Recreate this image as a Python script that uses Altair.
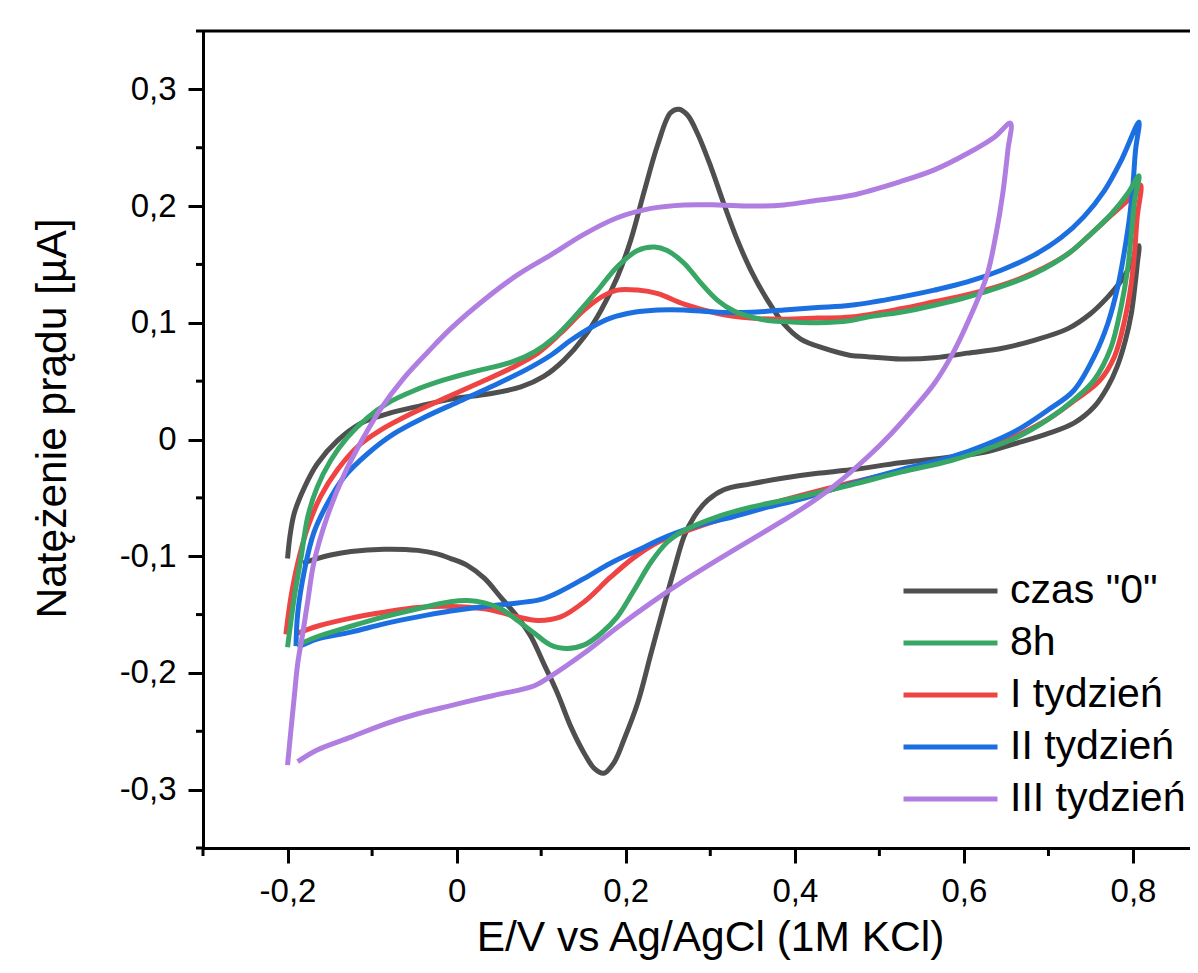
import altair as alt
import pandas as pd

SERIES = ['czas "0"', "8h", "I tydzień", "II tydzień", "III tydzień"]
COLORS = ["#4f4f4f", "#38a665", "#ef4444", "#1c6fe0", "#b07ee0"]

# (E [V], I [uA]), in scan order
czas0 = [
    (-0.200, -0.102), (-0.197, -0.082), (-0.192, -0.063), (-0.180, -0.041), (-0.165, -0.021),
    (-0.141, -0.001), (-0.113, 0.014), (-0.082, 0.022), (-0.042, 0.029), (-0.003, 0.035),
    (0.037, 0.039), (0.076, 0.045), (0.103, 0.054), (0.127, 0.068), (0.151, 0.088),
    (0.171, 0.111), (0.190, 0.139), (0.206, 0.171), (0.222, 0.213), (0.238, 0.253),
    (0.253, 0.280), (0.263, 0.283), (0.273, 0.278), (0.285, 0.262), (0.301, 0.233),
    (0.316, 0.202), (0.332, 0.171), (0.348, 0.145), (0.368, 0.119), (0.387, 0.099),
    (0.407, 0.086), (0.435, 0.078), (0.466, 0.072), (0.486, 0.071), (0.525, 0.069),
    (0.565, 0.070), (0.604, 0.074), (0.644, 0.078), (0.683, 0.085), (0.723, 0.095),
    (0.750, 0.108), (0.770, 0.122), (0.786, 0.136), (0.798, 0.151), (0.807, 0.166),
    (0.805, 0.150), (0.802, 0.130), (0.798, 0.108), (0.791, 0.085), (0.781, 0.062),
    (0.770, 0.045), (0.754, 0.028), (0.730, 0.014), (0.699, 0.005), (0.663, -0.003),
    (0.624, -0.011), (0.585, -0.015), (0.525, -0.020), (0.466, -0.026), (0.427, -0.029),
    (0.387, -0.033), (0.348, -0.038), (0.316, -0.043), (0.297, -0.052), (0.281, -0.066),
    (0.269, -0.083), (0.257, -0.112), (0.245, -0.143), (0.230, -0.183), (0.214, -0.226),
    (0.198, -0.257), (0.186, -0.277), (0.174, -0.286), (0.163, -0.282), (0.151, -0.269),
    (0.135, -0.246), (0.119, -0.217), (0.103, -0.192), (0.088, -0.169), (0.072, -0.152),
    (0.052, -0.135), (0.033, -0.119), (0.013, -0.108), (-0.007, -0.102), (-0.023, -0.098),
    (-0.046, -0.095), (-0.086, -0.094), (-0.125, -0.096), (-0.149, -0.099), (-0.165, -0.102),
    (-0.182, -0.106),
]

h8 = [
    (-0.200, -0.178), (-0.192, -0.135), (-0.184, -0.101), (-0.176, -0.066), (-0.165, -0.041),
    (-0.149, -0.018), (-0.129, 0.002), (-0.105, 0.019), (-0.082, 0.031), (-0.050, 0.042),
    (-0.015, 0.051), (0.025, 0.059), (0.064, 0.066), (0.092, 0.075), (0.115, 0.087),
    (0.143, 0.108), (0.167, 0.128), (0.190, 0.148), (0.214, 0.162), (0.234, 0.165),
    (0.249, 0.162), (0.269, 0.151), (0.289, 0.134), (0.309, 0.119), (0.328, 0.110),
    (0.348, 0.105), (0.368, 0.102), (0.387, 0.101), (0.427, 0.100), (0.466, 0.102),
    (0.486, 0.105), (0.525, 0.109), (0.565, 0.115), (0.604, 0.122), (0.644, 0.131),
    (0.683, 0.142), (0.723, 0.159), (0.750, 0.176), (0.774, 0.193), (0.794, 0.211),
    (0.807, 0.226),
    (0.802, 0.205), (0.798, 0.176), (0.794, 0.148), (0.786, 0.114), (0.774, 0.079),
    (0.754, 0.051), (0.730, 0.034), (0.699, 0.017), (0.663, 0.002), (0.624, -0.009),
    (0.585, -0.018), (0.525, -0.028), (0.466, -0.039), (0.407, -0.049), (0.348, -0.058),
    (0.309, -0.066), (0.269, -0.078), (0.249, -0.088), (0.230, -0.105), (0.210, -0.129),
    (0.190, -0.152), (0.171, -0.166), (0.151, -0.176), (0.131, -0.179), (0.111, -0.176),
    (0.092, -0.166), (0.072, -0.155), (0.052, -0.145), (0.033, -0.140), (0.013, -0.138),
    (-0.007, -0.139), (-0.046, -0.145), (-0.086, -0.152), (-0.125, -0.160), (-0.165, -0.169),
    (-0.188, -0.176),
]

tydz1 = [
    (-0.202, -0.167), (-0.196, -0.135), (-0.188, -0.106), (-0.176, -0.075), (-0.161, -0.049),
    (-0.141, -0.026), (-0.117, -0.006), (-0.090, 0.008), (-0.054, 0.022), (-0.015, 0.035),
    (0.025, 0.048), (0.064, 0.061), (0.096, 0.074), (0.123, 0.091), (0.151, 0.111),
    (0.171, 0.122), (0.190, 0.128), (0.214, 0.128), (0.238, 0.125), (0.269, 0.116),
    (0.309, 0.108), (0.348, 0.104), (0.387, 0.103), (0.427, 0.104), (0.466, 0.105),
    (0.525, 0.112), (0.565, 0.118), (0.604, 0.124), (0.644, 0.132), (0.683, 0.143),
    (0.723, 0.159), (0.750, 0.176), (0.774, 0.192), (0.798, 0.208), (0.809, 0.218),
    (0.805, 0.191), (0.802, 0.162), (0.798, 0.134), (0.790, 0.102), (0.778, 0.071),
    (0.760, 0.050), (0.732, 0.034), (0.701, 0.018), (0.665, 0.004), (0.626, -0.008),
    (0.585, -0.017), (0.525, -0.027), (0.466, -0.037), (0.407, -0.048), (0.348, -0.060),
    (0.309, -0.069), (0.269, -0.079), (0.238, -0.088), (0.210, -0.101), (0.182, -0.118),
    (0.151, -0.139), (0.123, -0.152), (0.096, -0.155), (0.072, -0.152), (0.052, -0.148),
    (0.033, -0.145), (-0.007, -0.143), (-0.046, -0.144), (-0.086, -0.148), (-0.125, -0.153),
    (-0.165, -0.160), (-0.188, -0.166),
]

tydz2 = [
    (-0.190, -0.177), (-0.188, -0.149), (-0.180, -0.112), (-0.169, -0.080), (-0.153, -0.055),
    (-0.133, -0.032), (-0.105, -0.012), (-0.074, 0.005), (-0.038, 0.019), (0.001, 0.032),
    (0.040, 0.045), (0.080, 0.059), (0.111, 0.072), (0.135, 0.085), (0.159, 0.096),
    (0.182, 0.104), (0.210, 0.109), (0.238, 0.111), (0.269, 0.111), (0.309, 0.109),
    (0.348, 0.109), (0.387, 0.111), (0.427, 0.113), (0.466, 0.115), (0.525, 0.122),
    (0.565, 0.128), (0.604, 0.135), (0.644, 0.145), (0.683, 0.158), (0.715, 0.173),
    (0.742, 0.191), (0.766, 0.213), (0.786, 0.239), (0.807, 0.272),
    (0.803, 0.248), (0.800, 0.219), (0.796, 0.191), (0.790, 0.162), (0.782, 0.131),
    (0.770, 0.099), (0.754, 0.071), (0.730, 0.042), (0.699, 0.025), (0.663, 0.008),
    (0.624, -0.005), (0.585, -0.015), (0.525, -0.026), (0.466, -0.038), (0.407, -0.051),
    (0.368, -0.058), (0.328, -0.066), (0.289, -0.073), (0.249, -0.083), (0.214, -0.095),
    (0.182, -0.106), (0.151, -0.119), (0.123, -0.130), (0.100, -0.137), (0.072, -0.140),
    (0.033, -0.143), (-0.007, -0.147), (-0.046, -0.152), (-0.086, -0.158), (-0.125, -0.165),
    (-0.165, -0.171), (-0.188, -0.178),
]

tydz3 = [
    (-0.200, -0.279), (-0.196, -0.249), (-0.192, -0.220), (-0.188, -0.192), (-0.182, -0.166),
    (-0.176, -0.138), (-0.169, -0.106), (-0.153, -0.066), (-0.133, -0.030), (-0.113, -0.002),
    (-0.090, 0.026), (-0.062, 0.053), (-0.034, 0.075), (-0.007, 0.095), (0.033, 0.120),
    (0.072, 0.141), (0.111, 0.158), (0.151, 0.176), (0.190, 0.190), (0.230, 0.198),
    (0.269, 0.201), (0.309, 0.201), (0.348, 0.200), (0.387, 0.201), (0.427, 0.205),
    (0.466, 0.209), (0.525, 0.221), (0.565, 0.231), (0.604, 0.245), (0.636, 0.259),
    (0.655, 0.271),
    (0.652, 0.248), (0.646, 0.211), (0.638, 0.176), (0.627, 0.140), (0.608, 0.106),
    (0.587, 0.074), (0.565, 0.048), (0.540, 0.026), (0.514, 0.005), (0.486, -0.015),
    (0.446, -0.040), (0.407, -0.060), (0.387, -0.069), (0.348, -0.086), (0.309, -0.103),
    (0.269, -0.121), (0.230, -0.140), (0.190, -0.161), (0.151, -0.183), (0.111, -0.203),
    (0.092, -0.211), (0.052, -0.218), (0.033, -0.221), (-0.007, -0.228), (-0.046, -0.235),
    (-0.086, -0.244), (-0.125, -0.255), (-0.165, -0.266), (-0.188, -0.276),
]

x_major = [-0.2, 0.0, 0.2, 0.4, 0.6, 0.8]
x_minor = [-0.3, -0.1, 0.1, 0.3, 0.5, 0.7]
y_major = [-0.3, -0.2, -0.1, 0.0, 0.1, 0.2, 0.3]
y_minor = [-0.35, -0.25, -0.15, -0.05, 0.05, 0.15, 0.25, 0.35]

draw_order = [
    (SERIES[0], czas0),
    (SERIES[2], tydz1),
    (SERIES[3], tydz2),
    (SERIES[1], h8),
    (SERIES[4], tydz3),
]
rows = []
for name, pts in draw_order:
    for i, (e, cur) in enumerate(pts):
        rows.append({"series": name, "E": e, "I": cur, "idx": i})
df = pd.DataFrame(rows)

W, H = 987, 817
XDOM = [-0.3, 0.8674]
YDOM = [-0.35, 0.35]
FONT = "Liberation Sans"
label_expr = (
    "datum.value == 0 ? '0' : (datum.value < 0 ? '-' : '') + "
    "replace(format(abs(datum.value), '.1f'), '.', ',')"
)

xs = alt.Scale(domain=XDOM, nice=False, zero=False)
ys = alt.Scale(domain=YDOM, nice=False, zero=False)

common_axis = dict(
    labelFont=FONT, labelFontSize=33, labelColor="black",
    titleFont=FONT, titleFontSize=42.5, titleFontWeight="normal", titleColor="black",
    tickSize=15, tickWidth=3, tickColor="black",
    domainColor="black", domainWidth=3, grid=False,
    labelExpr=label_expr, labelOverlap=False, labelFlush=False,
)

lines = alt.Chart(df).mark_line(strokeWidth=5, interpolate="catmull-rom").encode(
    x=alt.X(
        "E:Q", scale=xs,
        axis=alt.Axis(
            values=x_major, title="E/V vs Ag/AgCl (1M KCl)",
            labelBaseline="alphabetic", labelPadding=38,
            titleX=507, titleY=102, titleBaseline="alphabetic", titleAlign="center",
            **common_axis,
        ),
    ),
    y=alt.Y(
        "I:Q", scale=ys,
        axis=alt.Axis(
            values=y_major, title="Natężenie prądu [µA]",
            labelAlign="right", labelBaseline="middle", labelPadding=12,
            titleAngle=270, titleX=-138, titleY=387,
            titleBaseline="alphabetic", titleAlign="center",
            **common_axis,
        ),
    ),
    color=alt.Color(
        "series:N",
        scale=alt.Scale(domain=SERIES, range=COLORS),
        legend=alt.Legend(
            title=None, orient="none", legendX=698, legendY=534,
            symbolType="stroke", symbolSize=8836, symbolStrokeWidth=5,
            labelFont=FONT, labelFontSize=41, labelColor="black", labelLimit=400,
            clipHeight=52, rowPadding=0, labelOffset=10, padding=0, symbolOffset=0,
        ),
    ),
    order=alt.Order("idx:Q"),
)

y_minor_ticks = alt.Chart(pd.DataFrame({"v": y_minor})).mark_rule(
    color="black", strokeWidth=3
).encode(
    y=alt.Y("v:Q", scale=ys),
    x=alt.value(-7),
    x2=alt.value(0),
)

x_minor_ticks = alt.Chart(pd.DataFrame({"v": x_minor})).mark_rule(
    color="black", strokeWidth=3
).encode(
    x=alt.X("v:Q", scale=xs),
    y=alt.value(H),
    y2=alt.value(H + 8),
)

top_line = alt.Chart(pd.DataFrame({"a": [0]})).mark_rule(
    color="black", strokeWidth=3
).encode(
    x=alt.value(0),
    x2=alt.value(W),
    y=alt.value(0),
)

chart = alt.layer(lines, y_minor_ticks, x_minor_ticks, top_line).properties(
    width=W,
    height=H,
    padding={"left": 195, "top": 23, "right": 0, "bottom": 112},
    autosize=alt.AutoSizeParams(type="none"),
    background="white",
).configure_view(strokeOpacity=0)

chart.save("out.html", embed_options={"renderer": "svg", "actions": False})
